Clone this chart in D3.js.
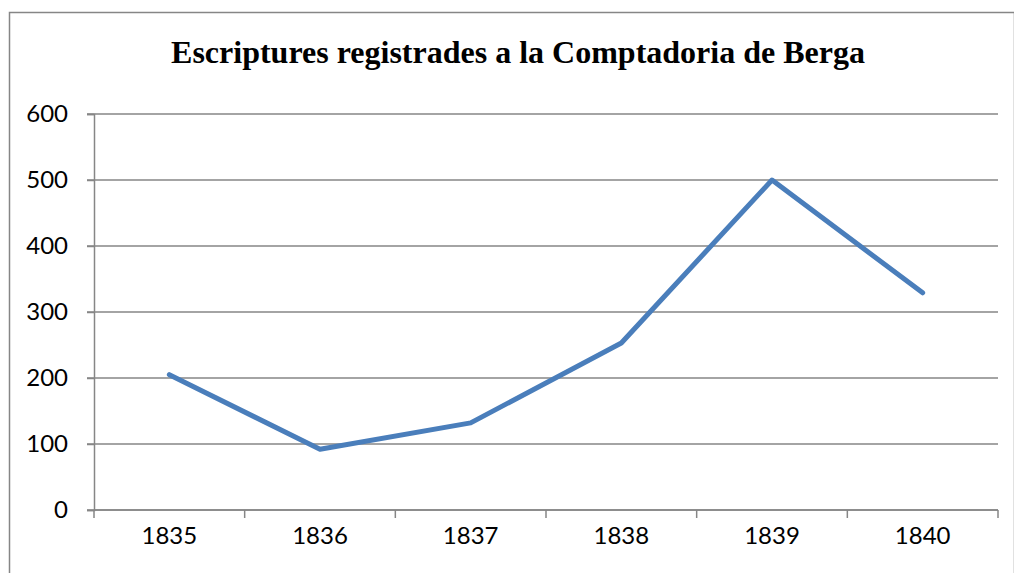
<!DOCTYPE html>
<html>
<head>
<meta charset="utf-8">
<script src="https://cdn.jsdelivr.net/npm/d3@7"></script>
<style>
  body { margin: 0; background: #fff; }
</style>
</head>
<body>
<div id="chart"></div>
<script>
// Chart data
const years = ["1835", "1836", "1837", "1838", "1839", "1840"];
const escriptures = [205, 92, 132, 253, 500, 329];
const yTicks = [0, 100, 200, 300, 400, 500, 600];
const chartTitle = "Escriptures registrades a la Comptadoria de Berga";

const W = 1014, H = 573;
const margin = { top: 114, right: 16, bottom: 63, left: 94 };
const width = W - margin.left - margin.right,
      height = H - margin.top - margin.bottom;

const svg = d3.select("#chart")
    .append("svg")
    .attr("width", W)
    .attr("height", H);

// outer chart border
svg.append("rect")
    .attr("x", 9.5)
    .attr("y", 12.5)
    .attr("width", W - 9)
    .attr("height", H)
    .attr("fill", "none")
    .attr("stroke", "#868686")
    .attr("stroke-width", 1.5);

svg.append("text")
    .attr("x", 518)
    .attr("y", 63)
    .attr("text-anchor", "middle")
    .style("font-family", "'Liberation Serif', 'Times New Roman', serif")
    .style("font-weight", "bold")
    .style("font-size", "32px")
    .text(chartTitle);

const g = svg.append("g")
    .attr("transform", `translate(${margin.left}, ${margin.top})`);

const xScale = d3.scaleBand()
    .domain(years)
    .range([0, width]);

const yScale = d3.scaleLinear()
    .domain([0, 600])
    .range([height, 0]);

// gridlines
g.selectAll(".grid")
    .data(yTicks)
    .enter().append("line")
    .attr("class", "grid")
    .attr("x1", -7)
    .attr("x2", width)
    .attr("y1", d => yScale(d))
    .attr("y2", d => yScale(d))
    .attr("stroke", "#868686")
    .attr("stroke-width", 1.5);

// y axis
const yAxis = g.append("g")
    .call(d3.axisLeft(yScale).tickValues(yTicks).tickSize(7).tickPadding(19));
yAxis.select(".domain").attr("stroke", "#868686").attr("stroke-width", 1.5);
yAxis.selectAll(".tick line").attr("stroke", "#868686").attr("stroke-width", 1.5);
yAxis.selectAll("text")
    .style("font-family", "Lato, 'Open Sans', sans-serif")
    .style("font-size", "24px")
    .attr("fill", "#000");

// x axis: ticks on band boundaries
const boundaries = years.map(y => xScale(y)).concat([width]);
const xAxisG = g.append("g")
    .attr("transform", `translate(0, ${height})`);
xAxisG.append("line")
    .attr("x1", 0).attr("x2", width)
    .attr("stroke", "#868686").attr("stroke-width", 1.5);
xAxisG.selectAll(".xtick")
    .data(boundaries)
    .enter().append("line")
    .attr("x1", d => d).attr("x2", d => d)
    .attr("y1", 0).attr("y2", 8)
    .attr("stroke", "#868686").attr("stroke-width", 1.5);
xAxisG.selectAll(".xlabel")
    .data(years)
    .enter().append("text")
    .attr("x", d => xScale(d) + xScale.bandwidth() / 2)
    .attr("y", 34)
    .attr("text-anchor", "middle")
    .style("font-family", "Lato, 'Open Sans', sans-serif")
    .style("font-size", "24px")
    .text(d => d);

// the line
const line = d3.line()
    .x((d, i) => xScale(years[i]) + xScale.bandwidth() / 2)
    .y(d => yScale(d));

g.append("path")
    .datum(escriptures)
    .attr("d", line)
    .attr("fill", "none")
    .attr("stroke", "#4a7ebb")
    .attr("stroke-width", 5)
    .attr("stroke-linejoin", "round")
    .attr("stroke-linecap", "round");
</script>
</body>
</html>
